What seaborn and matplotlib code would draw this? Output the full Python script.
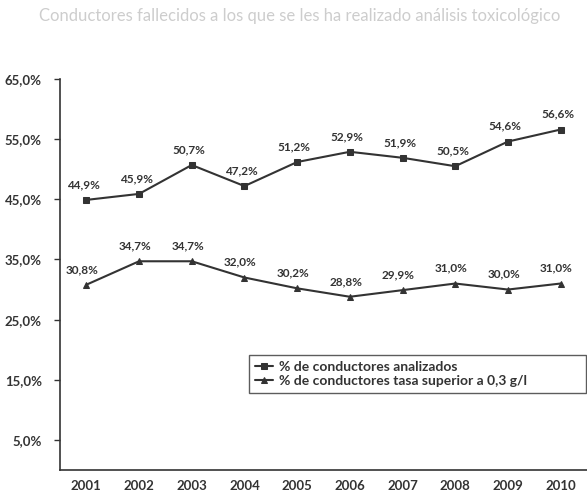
import matplotlib
matplotlib.use("Agg")
import matplotlib.pyplot as plt
from matplotlib.ticker import FixedLocator
import seaborn as sns
import pandas as pd

years = ["2001", "2002", "2003", "2004", "2005", "2006", "2007", "2008", "2009", "2010"]
analizados = [44.9, 45.9, 50.7, 47.2, 51.2, 52.9, 51.9, 50.5, 54.6, 56.6]
tasa_superior = [30.8, 34.7, 34.7, 32.0, 30.2, 28.8, 29.9, 31.0, 30.0, 31.0]
series_names = ["% de conductores analizados", "% de conductores tasa superior a 0,3 g/l"]
y_ticks = [5, 15, 25, 35, 45, 55, 65]
title = "Conductores fallecidos a los que se les ha realizado análisis toxicológico"

df = pd.DataFrame({
    "year": years * 2,
    "value": analizados + tasa_superior,
    "serie": [series_names[0]] * len(years) + [series_names[1]] * len(years),
})

sns.set_theme(style="white")
plt.rcParams["font.family"] = ["Lato", "DejaVu Sans"]

ink = "#333333"
fig = plt.figure(figsize=(5.87, 4.94), dpi=100)
ax = fig.add_axes([60 / 587, 24 / 494, 527 / 587, 391 / 494])

sns.lineplot(
    data=df, x="year", y="value", hue="serie", style="serie",
    palette={series_names[0]: ink, series_names[1]: ink},
    markers={series_names[0]: "s", series_names[1]: "^"},
    dashes=False, markersize=4.5, linewidth=1.5, markeredgecolor=ink,
    ax=ax,
)

def fmt(v):
    return f"{v:.1f}".replace(".", ",") + "%"

for i, v in enumerate(analizados):
    ax.annotate(fmt(v), (i, v), xytext=(-2, 7), textcoords="offset points",
                ha="center", va="bottom", fontsize=8.5, fontweight="bold", color=ink)
for i, v in enumerate(tasa_superior):
    ax.annotate(fmt(v), (i, v), xytext=(-3, 7), textcoords="offset points",
                ha="center", va="bottom", fontsize=8.5, fontweight="bold", color=ink)

ax.set_xlim(-0.5, len(years) - 0.5)
ax.set_ylim(0, 65)
ax.set_yticks(y_ticks)
ax.set_yticklabels([f"{t:.1f}".replace(".", ",") + "%" for t in y_ticks])
ax.xaxis.set_minor_locator(FixedLocator([i + 0.5 for i in range(len(years) - 1)]))
ax.tick_params(axis="x", which="major", length=0, labelsize=9.5, pad=7, colors=ink)
ax.tick_params(axis="x", which="minor", length=3, direction="in", width=1, color=ink)
ax.tick_params(axis="y", which="major", length=4, direction="out", width=1,
               labelsize=9.5, pad=9, colors=ink, left=True)
for lbl in ax.get_xticklabels() + ax.get_yticklabels():
    lbl.set_fontweight("bold")

for side in ["top", "right"]:
    ax.spines[side].set_visible(False)
for side in ["left", "bottom"]:
    ax.spines[side].set_color(ink)
    ax.spines[side].set_linewidth(1.2)

ax.set_xlabel("")
ax.set_ylabel("")
ax.grid(False)

leg = ax.legend(loc="upper left", bbox_to_anchor=(189 / 527, 0.0, 337 / 527, 0.294),
                mode="expand", frameon=True, fancybox=False, handlelength=1.3,
                handletextpad=0.4, borderpad=0.45, labelspacing=0.1,
                borderaxespad=0.0, prop={"weight": "bold", "size": 10})
leg.get_frame().set_edgecolor(ink)
leg.get_frame().set_linewidth(1.0)
for t in leg.get_texts():
    t.set_color(ink)

fig.text(0.51, 0.967, title, ha="center", va="center", fontsize=12, color="#cdcdcd")

fig.savefig("out.png", dpi=100, facecolor="white")
